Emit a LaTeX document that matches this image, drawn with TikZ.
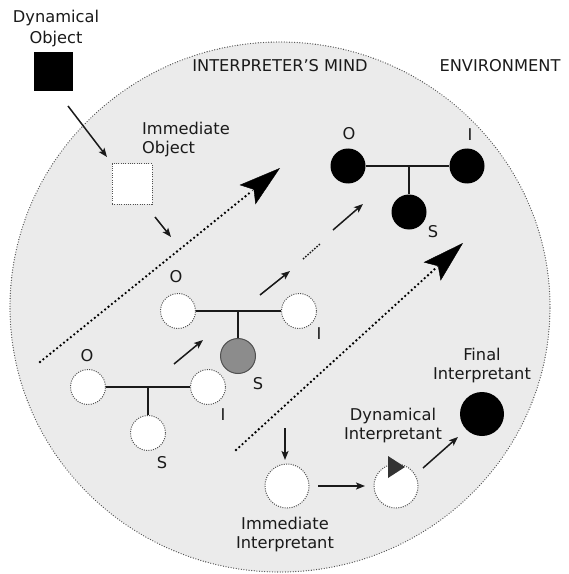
\documentclass[tikz,border=0pt]{standalone}
\usepackage{fontspec}
\setmainfont{DejaVu Sans}
\usetikzlibrary{arrows.meta}
\definecolor{mindbg}{HTML}{EBEBEB}
\definecolor{rim}{HTML}{505050}
\definecolor{ink}{HTML}{1A1A1A}
\definecolor{signgray}{HTML}{8C8C8C}
\definecolor{tipgray}{HTML}{333333}
\begin{document}
\begin{tikzpicture}[x=1bp,y=-1bp,
  lbl/.style={font=\fontsize{16.3}{20}\selectfont, inner sep=0pt, text=ink, align=center},
  blk/.style={circle, fill=black, minimum size=35bp, inner sep=0pt},
  hollow/.style={circle, fill=white, draw=rim, line width=1bp, dash pattern=on 1bp off 1.3bp, minimum size=35bp, inner sep=0pt},
  bigring/.style={hollow, minimum size=44bp},
  bar/.style={draw=ink, line width=1.8bp},
  arr/.style={draw=ink, line width=1.5bp, -{Stealth[length=9bp,width=7bp,inset=2bp]}},
  dotline/.style={draw=black, line width=2.6bp, dash pattern=on 0bp off 4.4bp, line cap=round},
  bigtip/.style={draw=black, line width=0.4bp, -{Stealth[length=42bp,width=25bp,inset=8bp]}},
]
\useasboundingbox (0,0) rectangle (569,574);

% the interpreter's mind
\fill[mindbg] (280,307) ellipse [x radius=270bp, y radius=265bp];
\draw[rim, line width=1.3bp, dash pattern=on 0bp off 2.6bp, line cap=round]
  (280,307) ellipse [x radius=270bp, y radius=265bp];
\node[lbl] (mind) at (280,66) {INTERPRETER'S MIND};
\node[lbl] (env) at (500,66) {ENVIRONMENT};

% dynamical and immediate object
\node[lbl, anchor=north, font=\fontsize{16.3}{22}\selectfont] (dyntxt) at (56,9.5) {Dynamical\\Object};
\node[fill=black, minimum size=39bp, inner sep=0pt] (dynobj) at (53.5,71.5) {};
\node[lbl, anchor=north west, align=left] (imtxt) at (142,121.5) {Immediate\\Object};
\node[fill=white, draw=rim, line width=1bp, dash pattern=on 1bp off 1.3bp, minimum size=40bp, inner sep=0pt] (imobj) at (132,184) {};
\coordinate (a1s) at (68,106);  \coordinate (a1e) at (107,157);
\coordinate (a2s) at (155,217); \coordinate (a2e) at (171,237);
\draw[arr] (a1s) -- (a1e);
\draw[arr] (a2s) -- (a2e);

% big dotted arrows
\coordinate (p1s) at (40,362);  \coordinate (p1m) at (252,191); \coordinate (p1t) at (280,168);
\coordinate (p2s) at (236,450); \coordinate (p2m) at (437,267); \coordinate (p2t) at (463,243);
\draw[dotline] (p1s) -- (p1m);
\draw[bigtip] (p1m) -- (p1t);
\draw[dotline] (p2s) -- (p2m);
\draw[bigtip] (p2m) -- (p2t);

% first triad
\node[hollow] (o1) at (88,387) {};
\node[hollow] (i1) at (208,387) {};
\node[hollow] (s1) at (148,433) {};
\coordinate (j1) at (148,387);
\draw[bar] (o1) -- (i1);
\draw[bar] (j1) -- (s1);
\node[lbl] (o1l) at (87,356) {O};
\node[lbl] (i1l) at (223,415) {I};
\node[lbl] (s1l) at (162,463) {S};

% second triad
\node[hollow] (o2) at (178,311) {};
\node[hollow] (i2) at (299,311) {};
\node[circle, fill=signgray, draw=rim, line width=1bp, minimum size=35bp, inner sep=0pt] (s2) at (238,356) {};
\coordinate (j2) at (238,311);
\draw[bar] (o2) -- (i2);
\draw[bar] (j2) -- (s2);
\node[lbl] (o2l) at (176,277) {O};
\node[lbl] (i2l) at (319,334) {I};
\node[lbl] (s2l) at (258,384) {S};

% third triad
\node[blk] (o3) at (348,166) {};
\node[blk] (i3) at (467,166) {};
\node[blk] (s3) at (409,212) {};
\coordinate (j3) at (409,166);
\draw[bar] (o3) -- (i3);
\draw[bar] (j3) -- (s3);
\node[lbl] (o3l) at (349,134) {O};
\node[lbl] (i3l) at (470,135) {I};
\node[lbl] (s3l) at (433,232) {S};

% steps between the triads
\coordinate (b1s) at (174,364); \coordinate (b1e) at (203,340);
\coordinate (b2s) at (260,295); \coordinate (b2e) at (290,271);
\coordinate (b3s) at (333,230); \coordinate (b3e) at (363,204);
\coordinate (d1) at (303,259);  \coordinate (d2) at (320,244);
\draw[arr] (b1s) -- (b1e);
\draw[arr] (b2s) -- (b2e);
\draw[arr] (b3s) -- (b3e);
\draw[draw=ink, line width=1.5bp, dash pattern=on 1.5bp off 1.5bp] (d1) -- (d2);

% interpretants
\node[bigring] (imint) at (287,486) {};
\node[bigring] (dynint) at (396,486) {};
\node[circle, fill=black, minimum size=44bp, inner sep=0pt] (finint) at (482,414) {};
\fill[tipgray] (388,456) -- (388,478) -- (405,467) -- cycle;
\node[lbl, anchor=north] (iminttxt) at (285,516.5) {Immediate\\Interpretant};
\node[lbl, anchor=north] (dyninttxt) at (393,407.5) {Dynamical\\Interpretant};
\node[lbl, anchor=north] (fininttxt) at (482,347.5) {Final\\Interpretant};
\coordinate (c1s) at (285,428); \coordinate (c1e) at (285,460);
\coordinate (c2s) at (318,486); \coordinate (c2e) at (365,486);
\coordinate (c3s) at (423,468); \coordinate (c3e) at (458,437);
\draw[arr] (c1s) -- (c1e);
\draw[arr] (c2s) -- (c2e);
\draw[arr] (c3s) -- (c3e);
\end{tikzpicture}
\end{document}
